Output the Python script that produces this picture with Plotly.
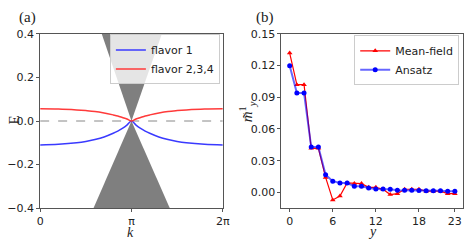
import plotly.graph_objects as go
import math

PI = math.pi

# ---------- Panel (a) data ----------
k_frac = [0.0, 0.2, 0.4, 0.5, 0.6, 0.7, 0.8, 0.85, 0.9, 0.95, 1.0,
          1.05, 1.1, 1.15, 1.2, 1.3, 1.4, 1.5, 1.6, 1.8, 2.0]
E_flavor1 = [-0.110, -0.107, -0.100, -0.094, -0.085, -0.073, -0.056, -0.046, -0.034, -0.019, 0.0,
             -0.019, -0.034, -0.046, -0.056, -0.073, -0.085, -0.094, -0.100, -0.107, -0.110]
E_flavor234 = [0.056, 0.055, 0.051, 0.048, 0.044, 0.037, 0.028, 0.023, 0.016, 0.009, 0.0,
               0.009, 0.016, 0.023, 0.028, 0.037, 0.044, 0.048, 0.051, 0.055, 0.056]
# continuum cone (k in units of pi, E)
cone_up_k = [0.674, 1.0, 1.333]
cone_up_E = [0.4, 0.0, 0.4]
cone_dn_k = [0.584, 1.0, 1.420]
cone_dn_E = [-0.4, 0.0, -0.4]

a_xtick_vals = [0.0, 1.0, 2.0]
a_xtick_text = ["0", "π", "2π"]
a_ytick_vals = [-0.4, -0.2, 0.0, 0.2, 0.4]
a_ytick_text = ["−0.4", "−0.2", "0.0", "0.2", "0.4"]

# ---------- Panel (b) data ----------
y_sites = list(range(24))
mean_field = [0.1318, 0.1019, 0.1019, 0.0417, 0.0417, 0.0142, -0.0071, -0.0035,
              0.0089, 0.0083, 0.0083, 0.0048, 0.0048, 0.0030, -0.0020, -0.0012,
              0.0030, 0.0030, 0.0030, 0.0012, 0.0012, 0.0012, -0.0012, -0.0012]
ansatz = [0.1197, 0.0940, 0.0940, 0.0429, 0.0429, 0.0166, 0.0106, 0.0089,
          0.0089, 0.0059, 0.0059, 0.0042, 0.0033, 0.0033, 0.0030, 0.0021,
          0.0021, 0.0021, 0.0018, 0.0015, 0.0015, 0.0015, 0.0012, 0.0012]
b_xtick_vals = [0, 6, 12, 18, 23]
b_ytick_vals = [0.00, 0.03, 0.06, 0.09, 0.12, 0.15]
b_ytick_text = ["0.00", "0.03", "0.06", "0.09", "0.12", "0.15"]

W, H = 475, 247
TICKFONT = dict(family="DejaVu Sans", size=11, color="#222")
LEGFONT = dict(family="DejaVu Sans", size=11, color="#222")
SERIF = "Liberation Serif"
AXC = "#555"
BOTTOM = 213.5
TOP = 29.3

fig = go.Figure()

# cone fills
fig.add_trace(go.Scatter(x=[v * PI for v in cone_up_k], y=cone_up_E, fill="toself",
                         fillcolor="#7f7f7f", line=dict(width=0), mode="lines",
                         showlegend=False, hoverinfo="skip", xaxis="x", yaxis="y"))
fig.add_trace(go.Scatter(x=[v * PI for v in cone_dn_k], y=cone_dn_E, fill="toself",
                         fillcolor="#7f7f7f", line=dict(width=0), mode="lines",
                         showlegend=False, hoverinfo="skip", xaxis="x", yaxis="y"))
# dashed zero line
fig.add_trace(go.Scatter(x=[0, 2 * PI], y=[0, 0], mode="lines",
                         line=dict(color="#888", width=1, dash="dash"),
                         showlegend=False, hoverinfo="skip", xaxis="x", yaxis="y"))
fig.add_trace(go.Scatter(x=[v * PI for v in k_frac], y=E_flavor1, mode="lines",
                         line=dict(color="#3a3aff", width=1.5, shape="spline"),
                         name="flavor 1", legend="legend", xaxis="x", yaxis="y"))
fig.add_trace(go.Scatter(x=[v * PI for v in k_frac], y=E_flavor234, mode="lines",
                         line=dict(color="#ff3a3a", width=1.5, shape="spline"),
                         name="flavor 2,3,4", legend="legend", xaxis="x", yaxis="y"))

# panel b
fig.add_trace(go.Scatter(x=y_sites, y=mean_field, mode="lines+markers",
                         line=dict(color="red", width=1.2),
                         marker=dict(symbol="triangle-up", size=5, color="red"),
                         name="Mean-field", legend="legend2", xaxis="x2", yaxis="y2"))
fig.add_trace(go.Scatter(x=y_sites, y=ansatz, mode="lines+markers",
                         line=dict(color="rgba(0,0,255,0.6)", width=2),
                         marker=dict(symbol="circle", size=5, color="blue"),
                         name="Ansatz", legend="legend2", xaxis="x2", yaxis="y2"))

axis_common = dict(showline=True, mirror=True, linecolor=AXC, linewidth=1,
                   ticks="outside", ticklen=3, tickcolor=AXC, tickfont=TICKFONT,
                   showgrid=False, zeroline=False)

fig.update_layout(
    width=W, height=H,
    margin=dict(l=0, r=0, t=0, b=0),
    paper_bgcolor="white", plot_bgcolor="white",
    xaxis=dict(domain=[37 / W, 224 / W], range=[0, 2 * PI],
               tickvals=[v * PI for v in a_xtick_vals], ticktext=a_xtick_text, **axis_common),
    yaxis=dict(domain=[1 - BOTTOM / H, 1 - TOP / H], range=[-0.4, 0.4],
               tickvals=a_ytick_vals, ticktext=a_ytick_text, **axis_common),
    xaxis2=dict(domain=[284 / W, 470 / W], range=[-1.15, 24.15],
                tickvals=b_xtick_vals, **axis_common, anchor="y2"),
    yaxis2=dict(domain=[1 - BOTTOM / H, 1 - TOP / H], range=[-0.015, 0.15],
                tickvals=b_ytick_vals, ticktext=b_ytick_text, **axis_common, anchor="x2"),
    legend=dict(x=221 / W, y=1 - 30 / H, xanchor="right", yanchor="top",
                bgcolor="rgba(255,255,255,0.8)", bordercolor="#ccc", borderwidth=1,
                font=LEGFONT, itemwidth=30, tracegroupgap=0),
    legend2=dict(x=466 / W, y=1 - 31 / H, xanchor="right", yanchor="top",
                 bgcolor="rgba(255,255,255,0.8)", bordercolor="#ccc", borderwidth=1,
                 font=LEGFONT, itemwidth=30, tracegroupgap=0),
    showlegend=True,
)

ann = [
    dict(text="(a)", x=24 / W, y=1 - 12 / H, font=dict(family=SERIF, size=15, color="#222")),
    dict(text="(b)", x=267 / W, y=1 - 12 / H, font=dict(family=SERIF, size=15, color="#222")),
    dict(text="<i>k</i>", x=130 / W, y=1 - 239 / H,
         font=dict(family=SERIF, size=14, color="#222")),
    dict(text="<i>y</i>", x=377 / W, y=1 - 238 / H,
         font=dict(family=SERIF, size=14, color="#222")),
    dict(text="E", x=10 / W, y=1 - 120 / H, textangle=-90, font=dict(family=SERIF, size=15, color="#222")),
    dict(text="<i>m̃</i><sup>1</sup><sub><i>y</i></sub>", x=249 / W, y=1 - 112 / H, textangle=-90,
         font=dict(family=SERIF, size=15, color="#222")),
]
for a in ann:
    a.update(xref="paper", yref="paper", showarrow=False, xanchor="center", yanchor="middle",
             borderpad=0)
fig.update_layout(annotations=ann)

fig.write_html("out.html", config=dict(displayModeBar=False),
               post_script="document.body.style.margin='0px';document.body.style.overflow='hidden';")
